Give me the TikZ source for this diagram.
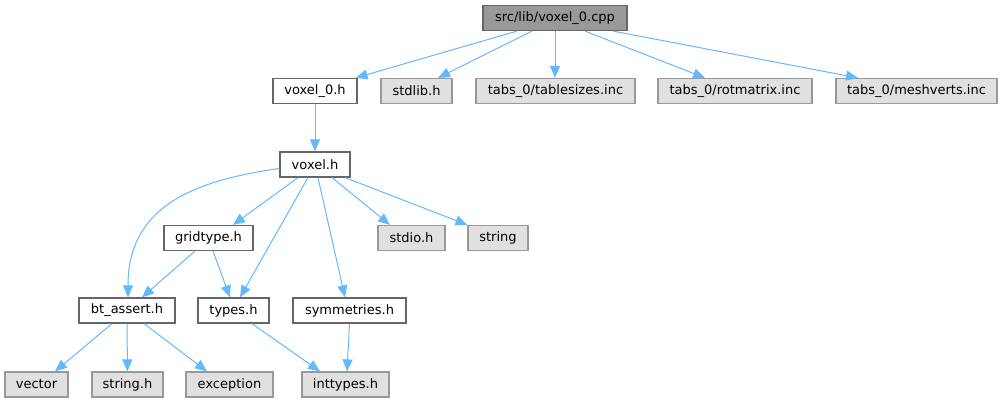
\documentclass[tikz,border=0pt]{standalone}
\usepackage{fontspec}
\setmainfont{DejaVu Sans}
\usetikzlibrary{arrows.meta}
\definecolor{linkblue}{HTML}{63B8FF}
\definecolor{boxgray}{HTML}{E0E0E0}
\definecolor{rimgray}{HTML}{999999}
\definecolor{rimdark}{HTML}{666666}

\begin{document}
\begin{tikzpicture}[x = 1pt, y = -1pt,
    hfile/.style = {draw = rimdark, fill = white, line width = 1.2pt, minimum height = 25pt, inner sep = 0pt, font = \fontsize{13}{15}\selectfont},
    sysfile/.style = {hfile, draw = rimgray, fill = boxgray},
    rootfile/.style = {hfile, fill = rimgray},
    inc/.style = {draw = linkblue, line width = 1pt, -{Triangle[length = 12pt, width = 10pt]}}]
        \useasboundingbox(0,0)rectangle(1003,403);
        % 第一层
        \node[rootfile, minimum width = 144pt](cpp)at(555,18){src/lib/voxel\_0.cpp};
        \node[hfile, minimum width = 84pt](voxel0h)at(315,91){voxel\_0.h};
        \node[sysfile, minimum width = 71pt](stdlib)at(416.5,91){stdlib.h};
        \node[sysfile, minimum width = 159pt](tablesizes)at(555.5,91){tabs\_0/tablesizes.inc};
        \node[sysfile, minimum width = 154pt](rotmatrix)at(735,91){tabs\_0/rotmatrix.inc};
        \node[sysfile, minimum width = 161pt](meshverts)at(916.5,91){tabs\_0/meshverts.inc};
        % 第二层
        \node[hfile, minimum width = 70pt](voxelh)at(315,164.5){voxel.h};
        \node[hfile, minimum width = 89pt](gridtype)at(208.5,238){gridtype.h};
        \node[sysfile, minimum width = 67pt](stdio)at(411.5,238){stdio.h};
        \node[sysfile, minimum width = 60pt](string)at(498,238){string};
        \node[hfile, minimum width = 96pt](btassert)at(127,310.5){bt\_assert.h};
        \node[hfile, minimum width = 71pt](types)at(233.5,310.5){types.h};
        \node[hfile, minimum width = 113pt](symmetries)at(349.5,310.5){symmetries.h};
        \node[sysfile, minimum width = 63pt](vector)at(36.5,384.5){vector};
        \node[sysfile, minimum width = 71pt](stringh)at(127.5,384.5){string.h};
        \node[sysfile, minimum width = 87pt](exception)at(229.5,384.5){exception};
        \node[sysfile, minimum width = 87pt](inttypes)at(345.5,384.5){inttypes.h};
        % 包含关系
        \draw[inc]([xshift = -38pt]cpp.south)to([xshift = -2pt]voxel0h.north east);
        \foreach \s/\t/\e in {-23/stdlib/21.5, 0/tablesizes/-0.5, 30/rotmatrix/-30, 58/meshverts/-58.5}
        {
        \draw[inc]([xshift = \s pt]cpp.south)to([xshift = \e pt]\t.north);
        }
        \draw[inc](voxel0h)to(voxelh);
        \draw[inc]([yshift = -4pt]voxelh.west)to[out = 188, in = 90, looseness = 1.15]([xshift = 1pt]btassert.north);
        \foreach \s/\t/\e in {-17/gridtype/24.5, -7/types/6.5, 3/symmetries/-4.5, 17/stdio/-21.5}
        {
        \draw[inc]([xshift = \s pt]voxelh.south)to([xshift = \e pt]\t.north);
        }
        \draw[inc]([xshift = 30pt]voxelh.south)to(string.north west);
        \draw[inc]([xshift = -13.5pt]gridtype.south)to([xshift = 15pt]btassert.north);
        \draw[inc]([xshift = 4.5pt]gridtype.south)to([xshift = -3.5pt]types.north);
        \draw[inc]([xshift = -15pt]btassert.south)to([xshift = 18.5pt]vector.north);
        \draw[inc](btassert)to(stringh);
        \draw[inc]([xshift = 17pt]btassert.south)to([xshift = -22.5pt]exception.north);
        \draw[inc]([xshift = 18.5pt]types.south)to([xshift = -25.5pt]inttypes.north);
        \draw[inc](symmetries.south)to([xshift = 1.5pt]inttypes.north);
    \end{tikzpicture}
\end{document}
